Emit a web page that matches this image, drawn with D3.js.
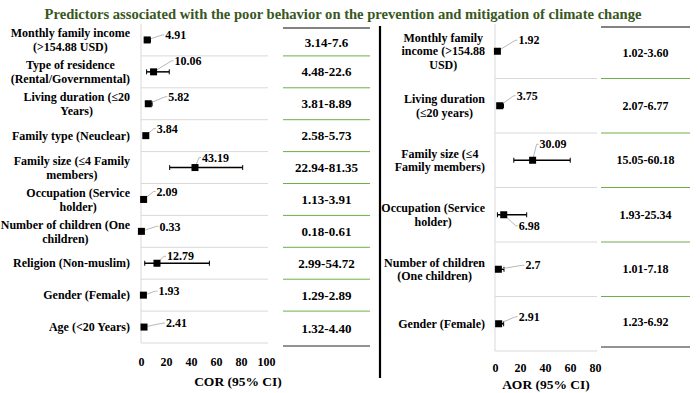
<!DOCTYPE html>
<html>
<head>
<meta charset="utf-8">
<script src="https://cdn.jsdelivr.net/npm/d3@7"></script>
<style>
  html, body { margin: 0; padding: 0; background: #fff; }
  svg { display: block; }
  text { font-family: "Liberation Serif", "Times New Roman", serif; font-weight: bold; fill: #000; }
</style>
</head>
<body>
<svg id="chart" width="700" height="393"></svg>
<script>
// ---------------- DATA ----------------
const chartTitle = "Predictors associated with the poor behavior on the prevention and mitigation of climate change";

const corCategories = [
  "Monthly family income\n(>154.88 USD)",
  "Type of residence\n(Rental/Governmental)",
  "Living duration (≤20\nYears)",
  "Family type (Neuclear)",
  "Family size (≤4 Family\nmembers)",
  "Occupation (Service\nholder)",
  "Number of children (One\nchildren)",
  "Religion (Non-muslim)",
  "Gender (Female)",
  "Age (<20 Years)"
];
const corValues = [4.91, 10.06, 5.82, 3.84, 43.19, 2.09, 0.33, 12.79, 1.93, 2.41];
const corLower  = [3.14, 4.48, 3.81, 2.58, 22.94, 1.13, 0.18, 2.99, 1.29, 1.32];
const corUpper  = [7.6, 22.6, 8.89, 5.73, 81.35, 3.91, 0.61, 54.72, 2.89, 4.40];
const corCIText = ["3.14-7.6", "4.48-22.6", "3.81-8.89", "2.58-5.73", "22.94-81.35",
                   "1.13-3.91", "0.18-0.61", "2.99-54.72", "1.29-2.89", "1.32-4.40"];
const corTicks  = [0, 20, 40, 60, 80, 100];
const corAxisTitle = "COR (95% CI)";

const aorCategories = [
  "Monthly family\nincome (>154.88\nUSD)",
  "Living duration\n(≤20 years)",
  "Family size (≤4\nFamily members)",
  "Occupation (Service\nholder)",
  "Number of children\n(One children)",
  "Gender (Female)"
];
const aorValues = [1.92, 3.75, 30.09, 6.98, 2.7, 2.91];
const aorLower  = [1.02, 2.07, 15.05, 1.93, 1.01, 1.23];
const aorUpper  = [3.60, 6.77, 60.18, 25.34, 7.18, 6.92];
const aorCIText = ["1.02-3.60", "2.07-6.77", "15.05-60.18", "1.93-25.34", "1.01-7.18", "1.23-6.92"];
const aorTicks  = [0, 20, 40, 60, 80];
const aorAxisTitle = "AOR (95% CI)";

// data-label placement (layout only): offset of label left edge / centre from marker
const corLabelOffset = [[18,-5],[21,-11],[20,-7],[11,-7],[7,-10],[13,-8],[18,-5],[10,-7],[15,-4],[22,-4]];
const aorLabelOffset = [[21,-11],[17,-10],[7,-16],[15,11],[27,-4],[20,-7]];

// ---------------- DRAW ----------------
const svg = d3.select("#chart");

svg.append("text")
  .attr("x", 343).attr("y", 14)
  .attr("text-anchor", "middle").attr("dominant-baseline", "central")
  .style("font-size", "14.6px").style("fill", "#385723")
  .text(chartTitle);

function panel(cfg) {
  const n = cfg.categories.length;
  const x = d3.scaleLinear().domain([0, cfg.max]).range([cfg.x0, cfg.x1]);
  const y = d3.scaleBand().domain(d3.range(n)).range([cfg.y0, cfg.y1]);
  const g = svg.append("g");

  // gridlines between rows
  g.selectAll("line.grid").data(d3.range(1, n)).join("line")
    .attr("x1", cfg.x0).attr("x2", cfg.gridEnd)
    .attr("y1", d => y(d)).attr("y2", d => y(d))
    .attr("stroke", "#d9d9d9").attr("stroke-width", 1);

  // vertical axis line
  g.append("line").attr("x1", cfg.x0).attr("x2", cfg.x0)
    .attr("y1", cfg.y0).attr("y2", cfg.y1)
    .attr("stroke", "#d9d9d9");

  // bottom axis
  const axis = d3.axisBottom(x).tickValues(cfg.ticks).tickSize(0).tickPadding(cfg.tickPad).tickFormat(d3.format("d"));
  const ax = g.append("g").attr("transform", `translate(0,${cfg.y1})`).call(axis);
  ax.attr("font-family", null).attr("font-size", null);
  ax.select(".domain").attr("stroke", "#d9d9d9").attr("d", `M${cfg.x0},0H${cfg.gridEnd}`);
  ax.selectAll("text").style("font-size", "12px").attr("fill", "#000");

  g.append("text").attr("x", cfg.titleX).attr("y", cfg.titleY)
    .attr("text-anchor", "middle").attr("dominant-baseline", "central")
    .style("font-size", "13.5px").text(cfg.axisTitle);

  // category labels (block right-aligned, lines centred inside block)
  cfg.categories.forEach((lab, i) => {
    const lines = lab.split("\n");
    const t = g.append("text").style("font-size", "12px").attr("text-anchor", "middle");
    const cy = y(i) + y.bandwidth() / 2;
    const spans = lines.map((ln, k) => t.append("tspan").text(ln)
      .attr("y", cy + (k - (lines.length - 1) / 2) * cfg.lineH)
      .attr("dy", "0.35em"));
    const maxW = d3.max(spans, s => s.node().getComputedTextLength());
    spans.forEach(s => s.attr("x", cfg.labelRight - maxW / 2));
  });

  // error bars
  const rows = d3.range(n);
  const cyf = i => y(i) + y.bandwidth() / 2;
  g.selectAll("line.err").data(rows).join("line")
    .attr("x1", i => x(cfg.lower[i])).attr("x2", i => x(cfg.upper[i]))
    .attr("y1", cyf).attr("y2", cyf)
    .attr("stroke", "#000").attr("stroke-width", 1.5);
  ["lower", "upper"].forEach(k => {
    g.selectAll("line.cap" + k).data(rows).join("line")
      .attr("x1", i => x(cfg[k][i])).attr("x2", i => x(cfg[k][i]))
      .attr("y1", i => cyf(i) - 2.5).attr("y2", i => cyf(i) + 2.5)
      .attr("stroke", "#000").attr("stroke-width", 1);
  });

  // leader lines + data labels
  rows.forEach(i => {
    const mx = x(cfg.values[i]), my = cyf(i);
    const [dx, dy] = cfg.offsets[i];
    const lx = mx + dx, ly = my + dy;
    g.append("polyline")
      .attr("points", `${mx},${my} ${lx - 3},${ly} ${lx - 1},${ly}`)
      .attr("fill", "none").attr("stroke", "#a6a6a6").attr("stroke-width", 0.8);
    g.append("text").attr("x", lx).attr("y", ly).attr("dy", "0.35em")
      .style("font-size", "12px").text(cfg.values[i]);
  });

  // markers
  g.selectAll("rect.mk").data(rows).join("rect")
    .attr("x", i => x(cfg.values[i]) - 3.5).attr("y", i => cyf(i) - 3.5)
    .attr("width", 7).attr("height", 7).attr("fill", "#000");

  // table
  const tb = svg.append("g");
  tb.append("line").attr("x1", cfg.tx0).attr("x2", cfg.tx1)
    .attr("y1", cfg.tTop).attr("y2", cfg.tTop).attr("stroke", "#595959").attr("stroke-width", 1.3);
  tb.selectAll("line.tg").data(d3.range(1, n)).join("line")
    .attr("x1", cfg.tx0).attr("x2", cfg.tx1)
    .attr("y1", d => y(d)).attr("y2", d => y(d))
    .attr("stroke", "#70ad47").attr("stroke-width", 1);
  tb.append("line").attr("x1", cfg.tx0).attr("x2", cfg.tx1)
    .attr("y1", cfg.tBot).attr("y2", cfg.tBot).attr("stroke", "#262626").attr("stroke-width", 1.2);
  tb.selectAll("text").data(rows).join("text")
    .attr("x", (cfg.tx0 + cfg.tx1) / 2)
    .attr("y", i => {
      const top = i === 0 ? cfg.tTop : y(i);
      const bot = i === n - 1 ? cfg.tBot : y(i + 1);
      return (top + bot) / 2;
    })
    .attr("dy", "0.35em").attr("text-anchor", "middle")
    .style("font-size", cfg.tableFont).text(i => cfg.ciText[i]);
}

panel({
  categories: corCategories, values: corValues, lower: corLower, upper: corUpper,
  ciText: corCIText, ticks: corTicks, max: 100, axisTitle: corAxisTitle,
  x0: 141, x1: 266, gridEnd: 268, y0: 24, y1: 343, tickPad: 14,
  titleX: 238, titleY: 381, labelRight: 130, lineH: 14,
  offsets: corLabelOffset,
  tx0: 283, tx1: 370, tTop: 28, tBot: 346, tableFont: "13px"
});

panel({
  categories: aorCategories, values: aorValues, lower: aorLower, upper: aorUpper,
  ciText: aorCIText, ticks: aorTicks, max: 80, axisTitle: aorAxisTitle,
  x0: 495, x1: 595, gridEnd: 597, y0: 24, y1: 351, tickPad: 12.5,
  titleX: 546, titleY: 384, labelRight: 485, lineH: 13.5,
  offsets: aorLabelOffset,
  tx0: 601, tx1: 690, tTop: 27, tBot: 347, tableFont: "12px"
});

// central divider
svg.append("line").attr("x1", 380).attr("x2", 380).attr("y1", 26).attr("y2", 378)
  .attr("stroke", "#000").attr("stroke-width", 2.2);
</script>
</body>
</html>
